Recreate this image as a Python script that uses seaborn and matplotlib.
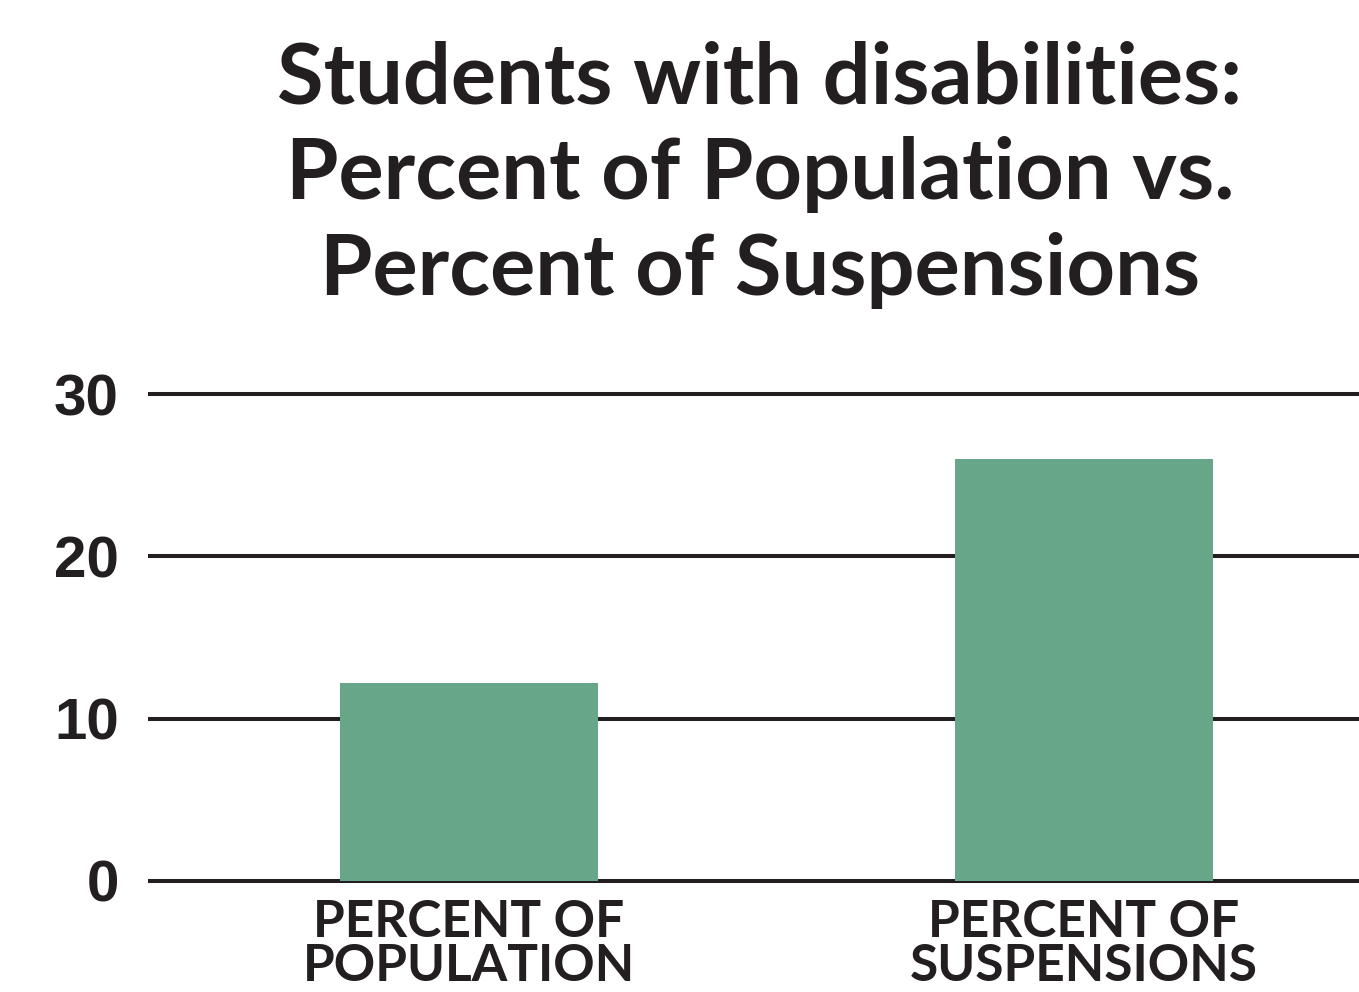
import matplotlib
matplotlib.use("Agg")
import matplotlib.pyplot as plt
import seaborn as sns
import pandas as pd

categories = ["PERCENT OF\nPOPULATION", "PERCENT OF\nSUSPENSIONS"]
values = [12.2, 26.0]
yticks = [0, 10, 20, 30]
title = "Students with disabilities:\nPercent of Population vs.\nPercent of Suspensions"

sns.set_theme(style="white")
plt.rcParams['font.family'] = ['Lato', 'DejaVu Sans']

ink = "#231f20"
bar_color = "#68a68a"

fig = plt.figure(figsize=(13.59, 9.92), dpi=100)
ax = fig.add_axes([148/1359, 1-884.2/992, 1-148/1359, (884.2-390.8)/992])

df = pd.DataFrame({"cat": categories, "val": values})
sns.barplot(data=df, x="cat", y="val", color=bar_color, width=0.42,
            saturation=1, linewidth=0, ax=ax, zorder=1)

ax.set_ylim(-0.2, 30.2)
ax.set_xlim(-0.522, 1.447)
ax.set_yticks(yticks)
ax.set_yticklabels([str(t) for t in yticks], fontsize=42, fontweight="bold",
                   color=ink, fontfamily="Liberation Sans")
for t in yticks:
    ax.axhline(t, color=ink, lw=2.9, zorder=0)
ax.tick_params(axis="y", length=0, pad=21)
ax.tick_params(axis="x", length=0, pad=11)
for lbl in ax.get_xticklabels():
    lbl.set_fontsize(37)
    lbl.set_fontweight("bold")
    lbl.set_color(ink)
    lbl.set_linespacing(0.92)
ax.set_xlabel("")
ax.set_ylabel("")
for s in ax.spines.values():
    s.set_visible(False)
ax.grid(False)

fig.text(760/1359, 1-40/992, title, ha="center", va="top", fontsize=61,
         fontweight="bold", color=ink, linespacing=1.3)

fig.savefig("out.png", dpi=100)
